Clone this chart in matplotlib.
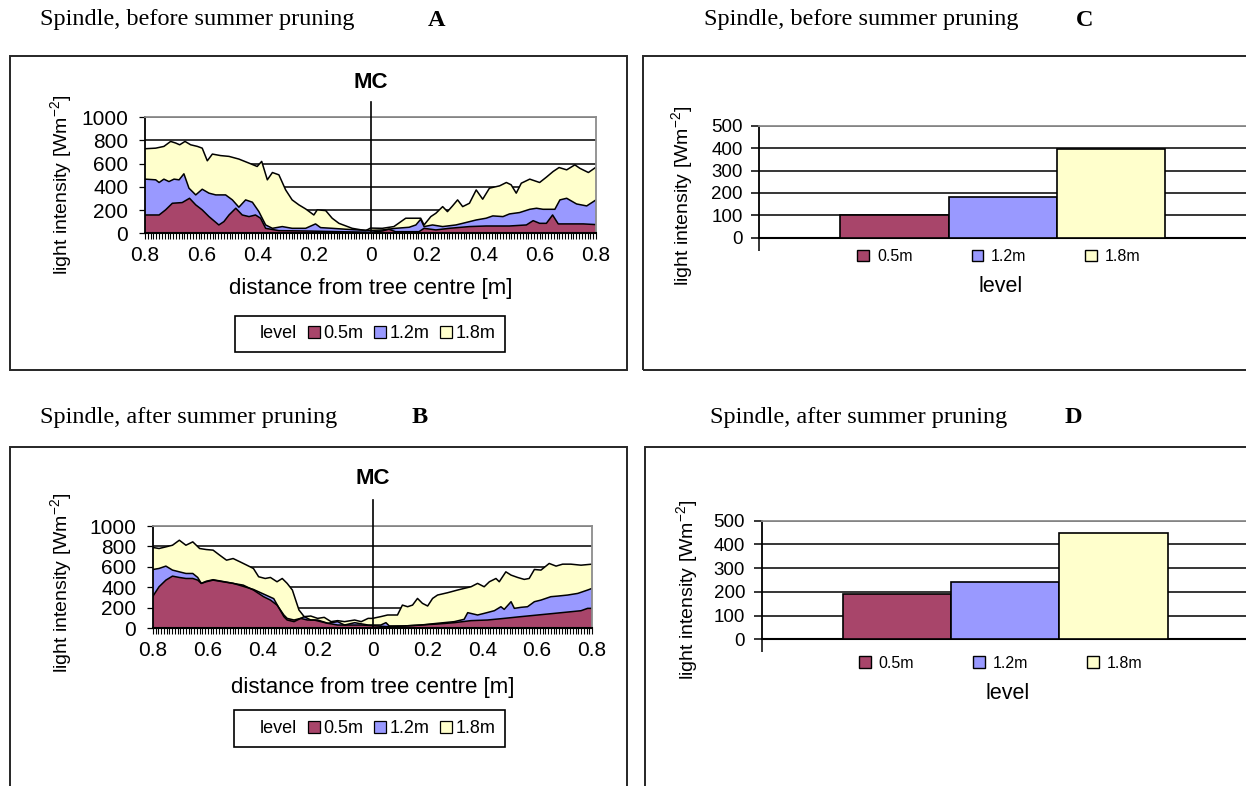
import matplotlib
matplotlib.use('Agg')
import matplotlib.pyplot as plt
from matplotlib.patches import Patch, Rectangle
from matplotlib.ticker import MultipleLocator

plt.rcParams['font.family'] = ['Liberation Sans', 'DejaVu Sans']
plt.rcParams['mathtext.fontset'] = 'custom'
plt.rcParams['mathtext.rm'] = 'Liberation Sans'

# ---- data ----
levels = ['0.5m', '1.2m', '1.8m']
level_colors = ['#A8456A', '#9999FF', '#FFFFCC']

# A: before summer pruning, light profile across the tree (negative = left side)
a_x_18 = [-0.800, -0.762, -0.733, -0.709, -0.691, -0.677, -0.658, -0.638, -0.614, -0.597,
          -0.579, -0.561, -0.532, -0.502, -0.467, -0.431, -0.402, -0.386, -0.366, -0.348,
          -0.325, -0.301, -0.278, -0.254, -0.230, -0.201, -0.189, -0.159, -0.136, -0.112,
          -0.065, -0.017, 0.000, 0.042, 0.083, 0.125, 0.178, 0.190, 0.214, 0.232,
          0.256, 0.273, 0.291, 0.309, 0.327, 0.351, 0.375, 0.398, 0.422, 0.458,
          0.482, 0.499, 0.517, 0.535, 0.565, 0.600, 0.624, 0.648, 0.669, 0.696,
          0.725, 0.743, 0.773, 0.800]
a_y_18 = [729, 734, 749, 792, 778, 763, 792, 763, 749, 734,
          625, 683, 670, 663, 640, 605, 576, 620, 461, 524,
          504, 374, 288, 245, 210, 158, 202, 196, 130, 86,
          43, 23, 45, 43, 58, 130, 130, 72, 144, 173,
          230, 187, 236, 288, 230, 259, 374, 294, 389, 409,
          438, 418, 346, 432, 467, 438, 484, 533, 567, 547,
          590, 560, 524, 570]
a_x_12 = [-0.800, -0.762, -0.750, -0.733, -0.715, -0.697, -0.679, -0.662, -0.644, -0.620,
          -0.597, -0.573, -0.549, -0.514, -0.490, -0.467, -0.443, -0.419, -0.396, -0.372,
          -0.348, -0.313, -0.278, -0.230, -0.195, -0.177, -0.136, -0.088, -0.041, 0.000,
          0.042, 0.089, 0.137, 0.161, 0.178, 0.190, 0.220, 0.256, 0.303, 0.327,
          0.375, 0.410, 0.434, 0.470, 0.493, 0.529, 0.565, 0.589, 0.612, 0.654,
          0.672, 0.696, 0.731, 0.767, 0.800]
a_y_12 = [467, 461, 438, 467, 446, 467, 461, 513, 389, 331,
          380, 346, 331, 331, 288, 225, 288, 268, 187, 72,
          43, 58, 43, 43, 81, 49, 43, 35, 29, 25,
          29, 43, 52, 72, 121, 58, 72, 58, 72, 86,
          115, 130, 150, 144, 167, 179, 207, 216, 207, 207,
          288, 302, 253, 236, 288]
a_x_05 = [-0.800, -0.750, -0.727, -0.703, -0.668, -0.642, -0.620, -0.597, -0.573, -0.538,
          -0.520, -0.502, -0.478, -0.455, -0.431, -0.408, -0.390, -0.372, -0.325, -0.230,
          -0.112, 0.000, 0.042, 0.065, 0.089, 0.172, 0.190, 0.232, 0.279, 0.351,
          0.410, 0.493, 0.553, 0.577, 0.600, 0.624, 0.646, 0.666, 0.707, 0.755,
          0.800]
a_y_05 = [158, 158, 202, 259, 265, 302, 245, 202, 144, 72,
          101, 158, 216, 158, 144, 158, 130, 43, 23, 20,
          14, 9, 20, 35, 14, 14, 43, 29, 43, 58,
          63, 63, 72, 109, 86, 86, 158, 81, 81, 81,
          75]

# B: after summer pruning
b_x_18 = [-0.800, -0.778, -0.753, -0.729, -0.704, -0.680, -0.655, -0.630, -0.606, -0.581,
          -0.557, -0.532, -0.508, -0.483, -0.458, -0.434, -0.415, -0.391, -0.372, -0.348,
          -0.329, -0.311, -0.292, -0.280, -0.268, -0.249, -0.225, -0.200, -0.176, -0.151,
          -0.127, -0.102, -0.065, -0.041, -0.016, 0.000, 0.030, 0.055, 0.091, 0.109,
          0.128, 0.146, 0.164, 0.182, 0.201, 0.219, 0.237, 0.274, 0.310, 0.334,
          0.359, 0.383, 0.407, 0.426, 0.450, 0.462, 0.486, 0.505, 0.529, 0.553,
          0.571, 0.590, 0.614, 0.644, 0.669, 0.693, 0.723, 0.760, 0.800]
b_y_18 = [790, 780, 796, 812, 861, 812, 845, 780, 770, 764,
          715, 666, 682, 650, 617, 585, 504, 487, 497, 455,
          487, 439, 374, 276, 179, 114, 120, 97, 107, 65,
          75, 65, 81, 65, 97, 97, 114, 130, 130, 227,
          211, 227, 292, 244, 218, 292, 325, 348, 374, 390,
          406, 439, 406, 455, 487, 455, 552, 520, 497, 478,
          487, 575, 569, 634, 608, 627, 627, 617, 627]
b_x_12 = [-0.800, -0.778, -0.753, -0.729, -0.704, -0.680, -0.655, -0.637, -0.624, -0.606,
          -0.581, -0.508, -0.434, -0.360, -0.323, -0.311, -0.286, -0.249, -0.225, -0.200,
          -0.163, -0.127, -0.102, -0.065, -0.016, 0.000, 0.030, 0.049, 0.061, 0.116,
          0.176, 0.237, 0.298, 0.334, 0.347, 0.383, 0.407, 0.444, 0.468, 0.480,
          0.505, 0.517, 0.541, 0.565, 0.590, 0.614, 0.650, 0.675, 0.711, 0.748,
          0.784, 0.800]
b_y_12 = [575, 585, 608, 569, 552, 536, 536, 497, 439, 460,
          475, 440, 380, 290, 114, 81, 65, 114, 81, 81,
          49, 65, 32, 55, 32, 32, 32, 55, 23, 23,
          32, 49, 65, 88, 153, 130, 146, 172, 211, 185,
          260, 195, 205, 211, 260, 276, 309, 315, 325, 341,
          374, 390]
b_x_05 = [-0.800, -0.778, -0.753, -0.729, -0.704, -0.680, -0.655, -0.637, -0.624, -0.606,
          -0.581, -0.545, -0.508, -0.471, -0.434, -0.397, -0.372, -0.348, -0.323, -0.311,
          -0.286, -0.262, -0.237, -0.213, -0.188, -0.163, -0.127, -0.090, -0.041, 0.000,
          0.055, 0.116, 0.176, 0.237, 0.298, 0.359, 0.419, 0.480, 0.541, 0.602,
          0.663, 0.723, 0.760, 0.784, 0.800]
b_y_05 = [315, 406, 471, 510, 497, 487, 487, 471, 439, 455,
          471, 455, 439, 422, 374, 309, 276, 227, 130, 97,
          81, 97, 81, 81, 65, 49, 32, 32, 32, 26,
          16, 23, 32, 42, 55, 75, 81, 97, 114, 130,
          146, 162, 172, 195, 195]

# C and D: mean light intensity per level
c_means = [100, 183, 397]
d_means = [193, 243, 447]

profile_yticks = [0, 200, 400, 600, 800, 1000]
profile_xticks = [-0.8, -0.6, -0.4, -0.2, 0.0, 0.2, 0.4, 0.6, 0.8]
profile_xticklabels = ['0.8', '0.6', '0.4', '0.2', '0', '0.2', '0.4', '0.6', '0.8']
bar_yticks = [0, 100, 200, 300, 400, 500]

YLABEL = r'light intensity [Wm$^{\mathregular{-2}}$]'
GRID = '#353535'
BORDER = '#8c8c8c'

W, H = 1246, 786
fig = plt.figure(figsize=(W / 100, H / 100), dpi=100)


def axes_px(x0, x1, y_top, y_bot):
    # place an axes by its pixel box (origin top-left)
    return fig.add_axes([x0 / W, 1 - y_bot / H, (x1 - x0) / W, (y_bot - y_top) / H])


def panel_box(x0, y0, x1, y1):
    fig.patches.append(Rectangle((x0 / W, 1 - y1 / H), (x1 - x0) / W, (y1 - y0) / H,
                                 transform=fig.transFigure, fill=False,
                                 edgecolor='#262626', lw=1.4))


def panel_title(x, y, text, letter, letter_x):
    fig.text(x / W, 1 - y / H, text, family=['Liberation Serif'], fontsize=17.5, va='center')
    fig.text(letter_x / W, 1 - y / H, letter, family=['Liberation Serif'], fontsize=17.5,
             fontweight='bold', va='center', ha='center')


def style_spines(ax):
    ax.spines['left'].set_color('black')
    ax.spines['bottom'].set_color('black')
    ax.spines['left'].set_linewidth(1.3)
    ax.spines['bottom'].set_linewidth(1.5)
    for s in ('top', 'right'):
        ax.spines[s].set_color(BORDER)
        ax.spines[s].set_linewidth(1.3)


def profile_chart(ax, series, ylab_pos, xlab_y, leg_pos, mc_px, line_top):
    # draw tallest level first so lower levels stay in front
    for (x, y), color in reversed(list(zip(series, level_colors))):
        ax.fill_between(x, y, 0, facecolor=color, edgecolor='none', zorder=1)
        ax.plot(x, y, color='black', lw=1.1, zorder=2)
    ax.set_xlim(-0.8, 0.8)
    ax.set_ylim(0, 1000)
    ax.set_yticks(profile_yticks)
    ax.set_xticks(profile_xticks)
    ax.set_xticklabels(profile_xticklabels)
    ax.xaxis.set_minor_locator(MultipleLocator(0.01))
    ax.tick_params(axis='x', which='both', direction='out', length=4, width=0.8, pad=5,
                   labelsize=15)
    ax.tick_params(axis='y', direction='out', length=4, width=0.9, pad=8, labelsize=15)
    ax.set_axisbelow(True)
    ax.yaxis.grid(True, color=GRID, lw=1.4)
    style_spines(ax)

    # centre line of the tree
    ax.plot([0, 0], [0, line_top], transform=ax.get_xaxis_transform(), color='black',
            lw=1.2, clip_on=False, zorder=4)
    ax.annotate('MC', xy=(0, 1), xycoords=ax.get_xaxis_transform(), xytext=(0, mc_px),
                textcoords='offset pixels', ha='center', va='center', fontsize=16,
                fontweight='bold')

    ax.set_xlabel('distance from tree centre [m]', fontsize=16)
    ax.xaxis.set_label_coords(0.5, xlab_y)
    ax.xaxis.label.set_va('center')
    ax.set_ylabel(YLABEL, fontsize=14)
    ax.yaxis.set_label_coords(*ylab_pos)
    ax.yaxis.label.set_va('center')

    handles = [Patch(facecolor='none', edgecolor='none')] + \
              [Patch(facecolor=c, edgecolor='black', lw=0.9) for c in level_colors]
    leg = ax.legend(handles, ['level'] + levels, loc='center', bbox_to_anchor=leg_pos,
                    ncol=4, fontsize=13, handlelength=0.65, handleheight=0.65,
                    handletextpad=0.2, columnspacing=0.6, borderpad=0.55,
                    fancybox=False, edgecolor='black', framealpha=1)
    leg.get_frame().set_linewidth(1.2)


def bar_chart(ax, values, ylab_pos, leg_pos, xlab_pos):
    ax.bar(range(len(levels)), values, width=1.0, color=level_colors, edgecolor='black',
           lw=1.2, zorder=3)
    ax.set_xlim(-1.25, 3.25)
    ax.set_ylim(0, 500)
    ax.set_yticks(bar_yticks)
    ax.set_xticks([ax.get_xlim()[0]])
    ax.set_xticklabels([''])
    ax.tick_params(axis='x', direction='out', length=9, width=1.1)
    ax.tick_params(axis='y', direction='out', length=6, width=1.1, pad=6, labelsize=13.5)
    ax.set_axisbelow(True)
    ax.yaxis.grid(True, color=GRID, lw=1.4)
    style_spines(ax)
    ax.spines['right'].set_visible(False)

    ax.set_ylabel(YLABEL, fontsize=14)
    ax.yaxis.set_label_coords(*ylab_pos)
    ax.yaxis.label.set_va('center')
    ax.set_xlabel('level', fontsize=15.5)
    ax.xaxis.set_label_coords(*xlab_pos)
    ax.xaxis.label.set_va('center')

    handles = [Patch(facecolor=c, edgecolor='black', lw=1.0) for c in level_colors]
    ax.legend(handles, levels, loc='center', bbox_to_anchor=leg_pos, ncol=3,
              fontsize=11.5, handlelength=0.72, handleheight=0.72, handletextpad=0.5,
              columnspacing=3.7, frameon=False)


# panel frames and titles
panel_box(10, 56, 627, 370)
panel_box(643, 56, 1262, 370)
panel_box(10, 447, 627, 800)
panel_box(645, 447, 1262, 800)

panel_title(40, 20, 'Spindle, before summer pruning', 'A', 437)
panel_title(704, 20, 'Spindle, before summer pruning', 'C', 1085)
panel_title(40, 417, 'Spindle, after summer pruning', 'B', 420)
panel_title(710, 417, 'Spindle, after summer pruning', 'D', 1073)

ax_a = axes_px(145, 596, 117.3, 233.3)
profile_chart(ax_a, [(a_x_05, a_y_05), (a_x_12, a_y_12), (a_x_18, a_y_18)],
              ylab_pos=(-0.184, 0.42), xlab_y=-0.48, leg_pos=(0.499, -0.868),
              mc_px=35, line_top=1.13)

ax_b = axes_px(153, 592, 526, 628.3)
profile_chart(ax_b, [(b_x_05, b_y_05), (b_x_12, b_y_12), (b_x_18, b_y_18)],
              ylab_pos=(-0.207, 0.45), xlab_y=-0.574, leg_pos=(0.494, -0.98),
              mc_px=48, line_top=1.25)

ax_c = axes_px(759.3, 1246, 125.7, 237.7)
bar_chart(ax_c, c_means, ylab_pos=(-0.157, 0.372), leg_pos=(0.4925, -0.17),
          xlab_pos=(0.496, -0.4375))

ax_d = axes_px(761.7, 1249, 520.7, 639.3)
bar_chart(ax_d, d_means, ylab_pos=(-0.151, 0.416), leg_pos=(0.491, -0.202),
          xlab_pos=(0.505, -0.453))

fig.savefig('out.png', dpi=100)
